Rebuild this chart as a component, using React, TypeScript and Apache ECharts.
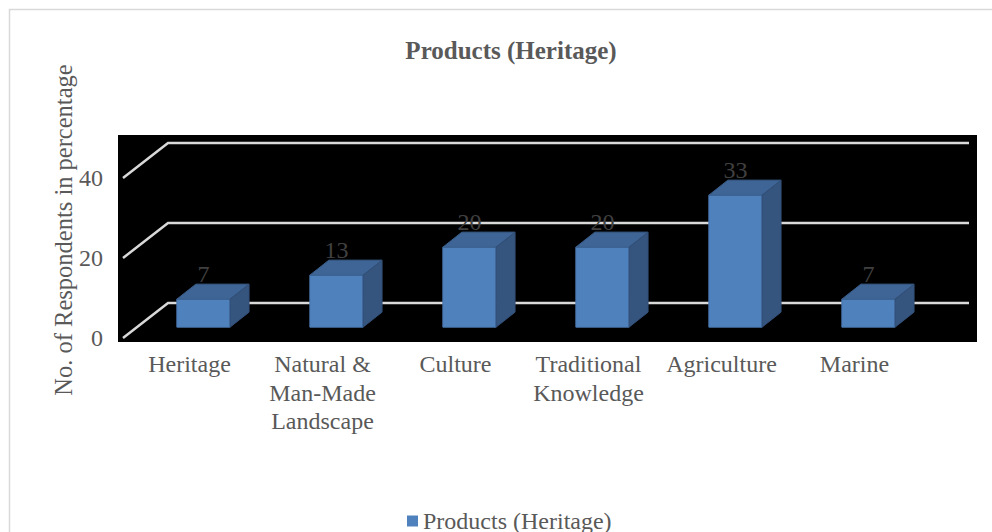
import React, { useEffect, useRef } from "react";
import * as echarts from "echarts";

const categories = [
  "Heritage",
  "Natural &\nMan-Made\nLandscape",
  "Culture",
  "Traditional\nKnowledge",
  "Agriculture",
  "Marine",
];
const values = [7, 13, 20, 20, 33, 7];
const yTicks = [0, 20, 40];
const seriesName = "Products (Heritage)";
const titleText = "Products (Heritage)";
const yAxisTitle = "No. of Respondents in percentage";

const FONT = '"Liberation Serif", "Times New Roman", serif';

export default function App() {
  const ref = useRef<HTMLDivElement>(null);
  useEffect(() => {
    if (!ref.current) return;
    const chart = echarts.init(ref.current, undefined, { renderer: "svg" });
    const depthX = 45;
    const depthY = -35;
    const frontFrac = 0.31;
    const barDX = 19;
    const barDY = -15;

    chart.setOption({
      animation: false,
      backgroundColor: "#ffffff",
      title: {
        text: titleText,
        left: 506,
        top: 33,
        textAlign: "center",
        textStyle: { fontFamily: FONT, fontSize: 25, fontWeight: "bold", color: "#595959" },
      },
      legend: {
        data: [seriesName],
        left: 407,
        top: 509,
        padding: 0,
        icon: "rect",
        itemWidth: 11,
        itemHeight: 11,
        textStyle: { fontFamily: FONT, fontSize: 24, color: "#595959" },
      },
      graphic: [
        {
          type: "rect",
          z: -10,
          shape: { x: 9.5, y: 9.5, width: 1000, height: 600 },
          style: { fill: "#ffffff", stroke: "#d9d9d9", lineWidth: 1.5 },
        },
        {
          type: "rect",
          z: -5,
          shape: { x: 118, y: 135, width: 859, height: 207 },
          style: { fill: "#000000" },
        },
        {
          type: "text",
          x: 63,
          y: 230,
          rotation: Math.PI / 2,
          style: {
            text: yAxisTitle,
            fontFamily: FONT,
            fontSize: 24.5,
            fill: "#595959",
            align: "center",
            verticalAlign: "middle",
          },
        },
      ],
      grid: { left: 123, right: 71, top: 178, bottom: 194 },
      xAxis: {
        type: "category",
        data: categories,
        axisLine: { show: false },
        axisTick: { show: false },
        axisLabel: {
          interval: 0,
          margin: 12,
          fontFamily: FONT,
          fontSize: 24,
          lineHeight: 28.5,
          color: "#595959",
        },
      },
      yAxis: {
        type: "value",
        min: 0,
        max: 40,
        interval: 20,
        axisLine: { show: false },
        axisTick: { show: false },
        splitLine: { show: false },
        axisLabel: { margin: 20, fontFamily: FONT, fontSize: 24, color: "#595959" },
      },
      series: [
        {
          type: "custom",
          name: "gridlines",
          silent: true,
          z: 1,
          data: yTicks.map((t) => [0, t]),
          renderItem: (params: any, api: any) => {
            const cs = params.coordSys;
            const y = api.coord([0, api.value(1)])[1];
            return {
              type: "polyline",
              shape: {
                points: [
                  [cs.x, y],
                  [cs.x + depthX, y + depthY],
                  [cs.x + cs.width + 48, y + depthY],
                ],
              },
              style: { stroke: "#d9d9d9", lineWidth: 2.5, fill: "none" },
            };
          },
        },
        {
          type: "custom",
          name: seriesName,
          z: 3,
          itemStyle: { color: "#4f81bd" },
          data: values.map((v, i) => [i, v]),
          renderItem: (params: any, api: any) => {
            const i = api.value(0);
            const v = api.value(1);
            const base = api.coord([i, 0]);
            const top = api.coord([i, v]);
            const band = api.size([1, 0])[0];
            const w = band * 0.4;
            const fx = depthX * frontFrac;
            const fy = depthY * frontFrac;
            const cx = base[0] + fx;
            const x0 = cx - w / 2;
            const x1 = cx + w / 2;
            const yb = base[1] + fy;
            const yt = top[1] + fy;
            return {
              type: "group",
              children: [
                {
                  type: "polygon",
                  shape: { points: [[x0, yb], [x1, yb], [x1, yt], [x0, yt]] },
                  style: { fill: "#4f81bd", stroke: "#4a78b0", lineWidth: 1 },
                },
                {
                  type: "polygon",
                  shape: {
                    points: [[x0, yt], [x1, yt], [x1 + barDX, yt + barDY], [x0 + barDX, yt + barDY]],
                  },
                  style: { fill: "#3e6595", stroke: "#3a5f8c", lineWidth: 1 },
                },
                {
                  type: "polygon",
                  shape: {
                    points: [[x1, yb], [x1 + barDX, yb + barDY], [x1 + barDX, yt + barDY], [x1, yt]],
                  },
                  style: { fill: "#35547e", stroke: "#324f77", lineWidth: 1 },
                },
                {
                  type: "text",
                  style: {
                    text: String(v),
                    x: cx,
                    y: yt + barDY - 10,
                    align: "center",
                    verticalAlign: "middle",
                    fontFamily: FONT,
                    fontSize: 24,
                    fill: "#404040",
                  },
                },
              ],
            };
          },
        },
      ],
    });
    return () => chart.dispose();
  }, []);
  return (
    <div
      ref={ref}
      style={{ position: "absolute", left: 0, top: 0, width: 992, height: 532 }}
    />
  );
}
